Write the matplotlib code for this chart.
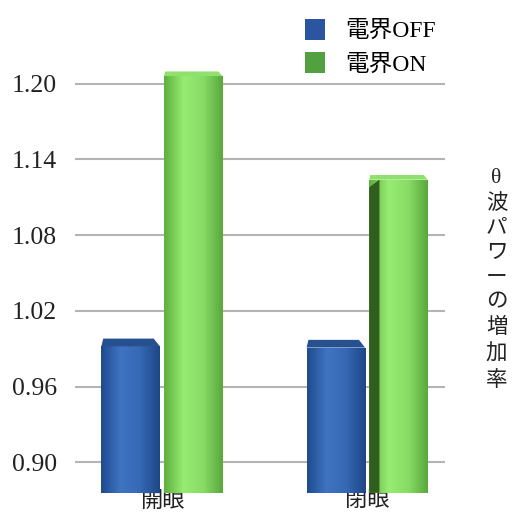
import numpy as np
import matplotlib
matplotlib.use('Agg')
import matplotlib.pyplot as plt
from matplotlib.colors import LinearSegmentedColormap
from matplotlib.patches import Polygon, Patch

# data
categories = ['開眼', '閉眼']
series_names = ['電界OFF', '電界ON']
off_values = [0.992, 0.991]
on_values = [1.206, 1.124]
y_ticks = [0.90, 0.96, 1.02, 1.08, 1.14, 1.20]
y_label = 'θ波パワーの増加率'

plt.rcParams['font.family'] = ['Liberation Serif', 'Noto Sans CJK JP']

BLUE_FRONT = ['#1f4a8e', '#3f74c2', '#3668b4', '#1d4686']
BLUE_TOP = '#26508f'
GREEN_FRONT = ['#5fae3e', '#97ec73', '#88dc66', '#58a83a']
GREEN_TOP = '#8fe06c'
GREEN_SIDE = '#2f5e1f'


def shade_bar(ax, rect, colors):
    x, y = rect.get_xy()
    w, h = rect.get_width(), rect.get_height()
    cmap = LinearSegmentedColormap.from_list('bar', colors)
    grad = np.linspace(0, 1, 256).reshape(1, -1)
    im = ax.imshow(grad, extent=[x, x + w, y, y + h], aspect='auto',
                   cmap=cmap, zorder=3, interpolation='bicubic')
    im.set_clip_path(rect)


def top_cap(ax, rect, color, depth, slant):
    x, y = rect.get_xy()
    w, h = rect.get_width(), rect.get_height()
    top = y + h
    pts = [(x, top), (x + w, top), (x + w - slant, top + depth),
           (x + slant * 0.3, top + depth)]
    ax.add_patch(Polygon(pts, closed=True, facecolor=color,
                         edgecolor='none', zorder=4))


def main():
    fig = plt.figure(figsize=(5.2, 5.22), dpi=100)
    ax = fig.add_axes([0.144, 0.056, 0.712, 0.82])

    ymin, ymax = 0.876, 1.215
    x = np.arange(len(categories))
    width = 0.285
    gap = 0.02

    off_bars = ax.bar(x - width / 2 - gap / 2, [v - ymin for v in off_values],
                      width, bottom=ymin, color='none', zorder=3)
    on_bars = ax.bar(x + width / 2 + gap / 2, [v - ymin for v in on_values],
                     width, bottom=ymin, color='none', zorder=3)

    depth = 0.018 * (ymax - ymin)
    for rect in off_bars:
        shade_bar(ax, rect, BLUE_FRONT)
        top_cap(ax, rect, BLUE_TOP, depth, 0.03)
    for i, rect in enumerate(on_bars):
        shade_bar(ax, rect, GREEN_FRONT)
        top_cap(ax, rect, GREEN_TOP, depth * 0.6, 0.02)
        if i == 1:
            # darker receding side on the right-hand green bar
            bx, by = rect.get_xy()
            bh = rect.get_height()
            side = [(bx, by), (bx + 0.05, by), (bx + 0.05, by + bh),
                    (bx, by + bh - depth)]
            ax.add_patch(Polygon(side, closed=True, facecolor=GREEN_SIDE,
                                 edgecolor='none', zorder=4))

    for t in y_ticks:
        ax.axhline(t, color='#b4b4b4', lw=1.5, zorder=1)

    ax.set_xlim(-0.424, 1.38)
    ax.set_ylim(ymin, ymax)
    ax.set_yticks(y_ticks)
    ax.set_yticklabels([f'{t:.2f}' for t in y_ticks], fontsize=18.5,
                       color='#222222')
    ax.set_xticks(x)
    ax.set_xticklabels(categories, fontsize=16, color='#222222')
    ax.tick_params(axis='y', length=0, pad=13)
    ax.tick_params(axis='x', length=0, pad=-1)
    for s in ax.spines.values():
        s.set_visible(False)

    handles = [Patch(facecolor='#2a55a0', edgecolor='none'),
               Patch(facecolor='#52a040', edgecolor='none')]
    fig.legend(handles, series_names, loc='upper left',
               bbox_to_anchor=(0.545, 1.005), frameon=False, fontsize=17,
               handlelength=0.85, handleheight=1.0, handletextpad=0.85,
               labelspacing=0.4)

    fig.text(0.955, 0.464, '\n'.join(y_label), ha='center', va='center',
             fontsize=15.5, linespacing=1.4, color='#222222')

    fig.savefig('out.png', dpi=100)
    plt.close(fig)


if __name__ == '__main__':
    main()
